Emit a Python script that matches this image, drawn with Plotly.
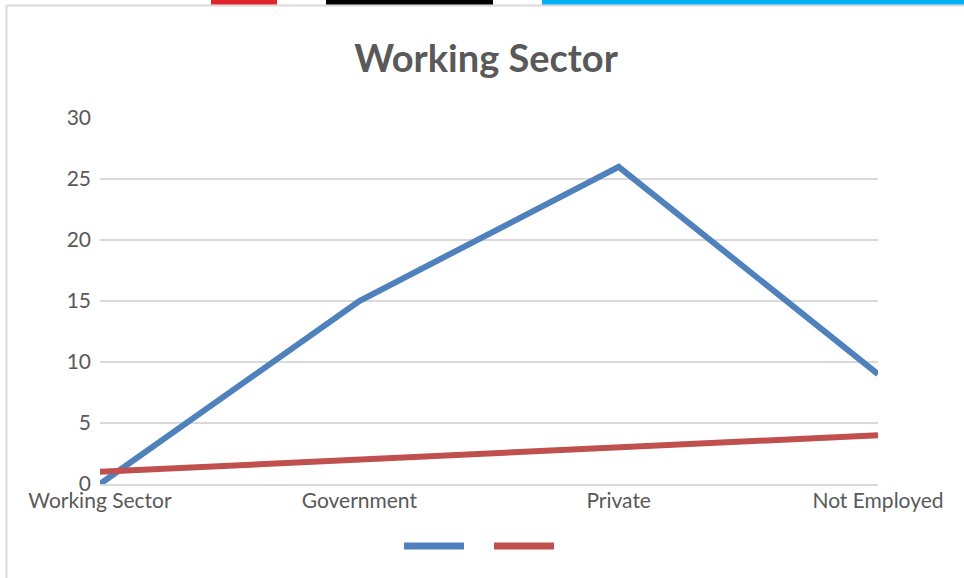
import plotly.graph_objects as go

categories = ["Working Sector", "Government", "Private", "Not Employed"]
series_blue = [0, 15, 26, 9]
series_red = [1, 2, 3, 4]
y_ticks = [0, 5, 10, 15, 20, 25, 30]

W, H = 964, 578
L, R, T, B = 100, 86, 118, 94
pw, ph = W - L - R, H - T - B

def px(x):
    return (x - L) / pw

def py(y):
    return (H - B - y) / ph

fig = go.Figure()
fig.add_trace(go.Scatter(x=categories, y=series_blue, mode="lines",
                         line=dict(color="#4F81BD", width=6), showlegend=False, cliponaxis=False))
fig.add_trace(go.Scatter(x=categories, y=series_red, mode="lines",
                         line=dict(color="#C0504D", width=6), showlegend=False, cliponaxis=False))

shapes = []
# outer border (left and top)
shapes.append(dict(type="line", xref="paper", yref="paper", x0=px(6.5), x1=px(6.5), y0=py(5.5), y1=py(578),
                   line=dict(color="#D9D9D9", width=2)))
shapes.append(dict(type="line", xref="paper", yref="paper", x0=px(6.5), x1=px(964), y0=py(5.5), y1=py(5.5),
                   line=dict(color="#D9D9D9", width=2)))
# top colored strips
for x0, x1, c in [(211, 277, "#E0242D"), (326, 493, "#000000"), (542, 964, "#00B0F0")]:
    shapes.append(dict(type="rect", xref="paper", yref="paper", x0=px(x0), x1=px(x1), y0=py(4.5), y1=py(0),
                       line=dict(width=0), fillcolor=c))
# legend swatches
for x0, x1, c in [(404, 464, "#4F81BD"), (494, 554, "#C0504D")]:
    shapes.append(dict(type="line", xref="paper", yref="paper", x0=px(x0), x1=px(x1), y0=py(546), y1=py(546),
                       line=dict(color=c, width=7)))

fig.update_layout(
    width=W, height=H,
    margin=dict(l=L, r=R, t=T, b=B),
    paper_bgcolor="white", plot_bgcolor="white",
    title=dict(text="<b>Working Sector</b>", x=(486) / W, xanchor="center", y=1 - 59 / H, yanchor="middle",
               yref="container", xref="container",
               font=dict(family="Lato", size=38, color="#595959")),
    font=dict(family="Lato", size=21, color="#595959"),
    shapes=shapes,
    showlegend=False,
)
fig.update_xaxes(type="category", range=[0, 3], showgrid=False, showline=True, linecolor="#D9D9D9", linewidth=1.5,
                 ticks="", ticklabelstandoff=-3, tickfont=dict(size=21, color="#595959"),
                 fixedrange=True, zeroline=False)
fig.update_yaxes(range=[0, 30], tickvals=y_ticks, showgrid=True, gridcolor="#D9D9D9", gridwidth=1.5,
                 zeroline=False, showline=False, ticks="", ticklabelstandoff=8,
                 tickfont=dict(size=21, color="#595959"))

fig.write_html("out.html")
